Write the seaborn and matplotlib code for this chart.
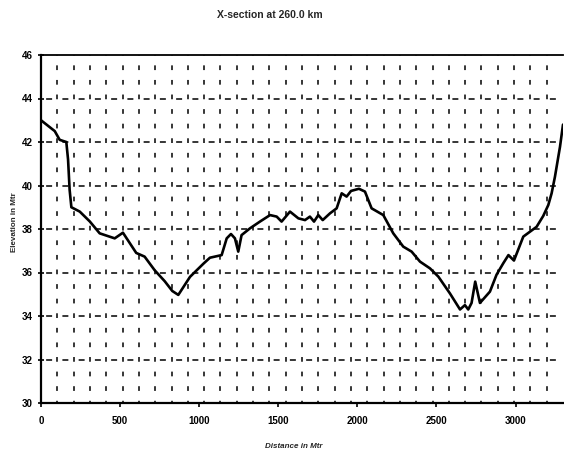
import numpy as np
import pandas as pd
import matplotlib
matplotlib.use("Agg")
import matplotlib.pyplot as plt
import seaborn as sns

# Cross-section profile: distance along section (m) and ground elevation (m)
distance = [0, 87, 118, 160, 171, 181, 192, 245, 308, 371, 466, 518, 602, 655,
            719, 782, 830, 868, 942, 1026, 1068, 1142, 1174, 1201, 1226, 1247,
            1268, 1321, 1384, 1448, 1490, 1521, 1574, 1627, 1669, 1700, 1726,
            1753, 1781, 1827, 1869, 1901, 1932, 1960, 2010, 2048, 2090, 2164,
            2227, 2290, 2343, 2396, 2459, 2512, 2585, 2649, 2680, 2701, 2722,
            2745, 2775, 2838, 2880, 2922, 2955, 2990, 3049, 3133, 3175, 3207,
            3228, 3249, 3281, 3300]
elevation = [43.0, 42.5, 42.1, 42.0, 41.2, 39.8, 39.0, 38.8, 38.35, 37.8, 37.57,
             37.83, 36.9, 36.73, 36.1, 35.6, 35.15, 34.97, 35.8, 36.4, 36.68,
             36.8, 37.57, 37.77, 37.57, 36.96, 37.72, 38.03, 38.34, 38.64, 38.57,
             38.34, 38.8, 38.49, 38.41, 38.57, 38.34, 38.64, 38.41, 38.72, 38.95,
             39.64, 39.49, 39.75, 39.85, 39.72, 38.95, 38.64, 37.8, 37.19, 36.96,
             36.5, 36.19, 35.81, 35.04, 34.3, 34.5, 34.3, 34.6, 35.58, 34.6,
             35.12, 35.9, 36.42, 36.8, 36.55, 37.65, 38.1, 38.6, 39.1, 39.64,
             40.4, 41.78, 42.8]

x_ticks = [0, 500, 1000, 1500, 2000, 2500, 3000]
y_ticks = [30, 32, 34, 36, 38, 40, 42, 44, 46]

title = "X-section at 260.0 km"
x_label = "Distance in Mtr"
y_label = "Elevation in Mtr"

sns.set_style("white")
plt.rcParams["font.family"] = ["Liberation Sans", "DejaVu Sans"]
plt.rcParams["lines.scale_dashes"] = False

fig = plt.figure(figsize=(5.64, 4.54), dpi=100)
ax = fig.add_axes([41 / 564, 1 - 403 / 454, 522 / 564, 348 / 454])

x_min, x_max = 0, 3300
y_min, y_max = 30, 46
ax.set_xlim(x_min, x_max)
ax.set_ylim(y_min, y_max)

# Dashed grid: vertical lines divide the span into 32 equal parts,
# horizontal lines sit at every labelled elevation
grid_x = np.linspace(x_min, x_max, 33)[1:-1]
ax.vlines(grid_x, y_min, y_max, colors="black", linewidth=1.1,
          linestyles=[(1.8, (3.4, 7.1))], zorder=1)
ax.hlines(y_ticks[1:-1], x_min, x_max, colors="black", linewidth=1.1,
          linestyles=[(8.0, (4.3, 7.4))], zorder=1)

df = pd.DataFrame({"distance": distance, "elevation": elevation})
sns.lineplot(data=df, x="distance", y="elevation", sort=False, color="black",
             linewidth=1.9, ax=ax, zorder=3)

ax.set_xticks(x_ticks)
ax.set_yticks(y_ticks)
ax.set_xticklabels([str(v) for v in x_ticks], fontsize=7, fontweight="bold")
ax.set_yticklabels([str(v) for v in y_ticks], fontsize=7, fontweight="bold")
ax.tick_params(axis="y", direction="inout", length=5, width=1.2, pad=3.5,
               left=True, colors="black")
ax.tick_params(axis="x", direction="out", length=3, width=1.2, pad=6,
               bottom=True, colors="black")

for side in ["left", "bottom"]:
    ax.spines[side].set_linewidth(1.6)
    ax.spines[side].set_color("black")
ax.spines["top"].set_linewidth(1.3)
ax.spines["top"].set_color("black")
ax.spines["right"].set_visible(False)

ax.set_xlabel(x_label, fontsize=5.8, fontweight="bold", style="italic")
ax.xaxis.set_label_coords(0.485, -0.115)
ax.set_ylabel(y_label, fontsize=5.8, fontweight="bold")
ax.yaxis.set_label_coords(-0.045, 0.52)

fig.text(270 / 564, 1 - 15 / 454, title, ha="center", va="center",
         fontsize=7.5, fontweight="bold")

fig.savefig("out.png", dpi=100, facecolor="white")
